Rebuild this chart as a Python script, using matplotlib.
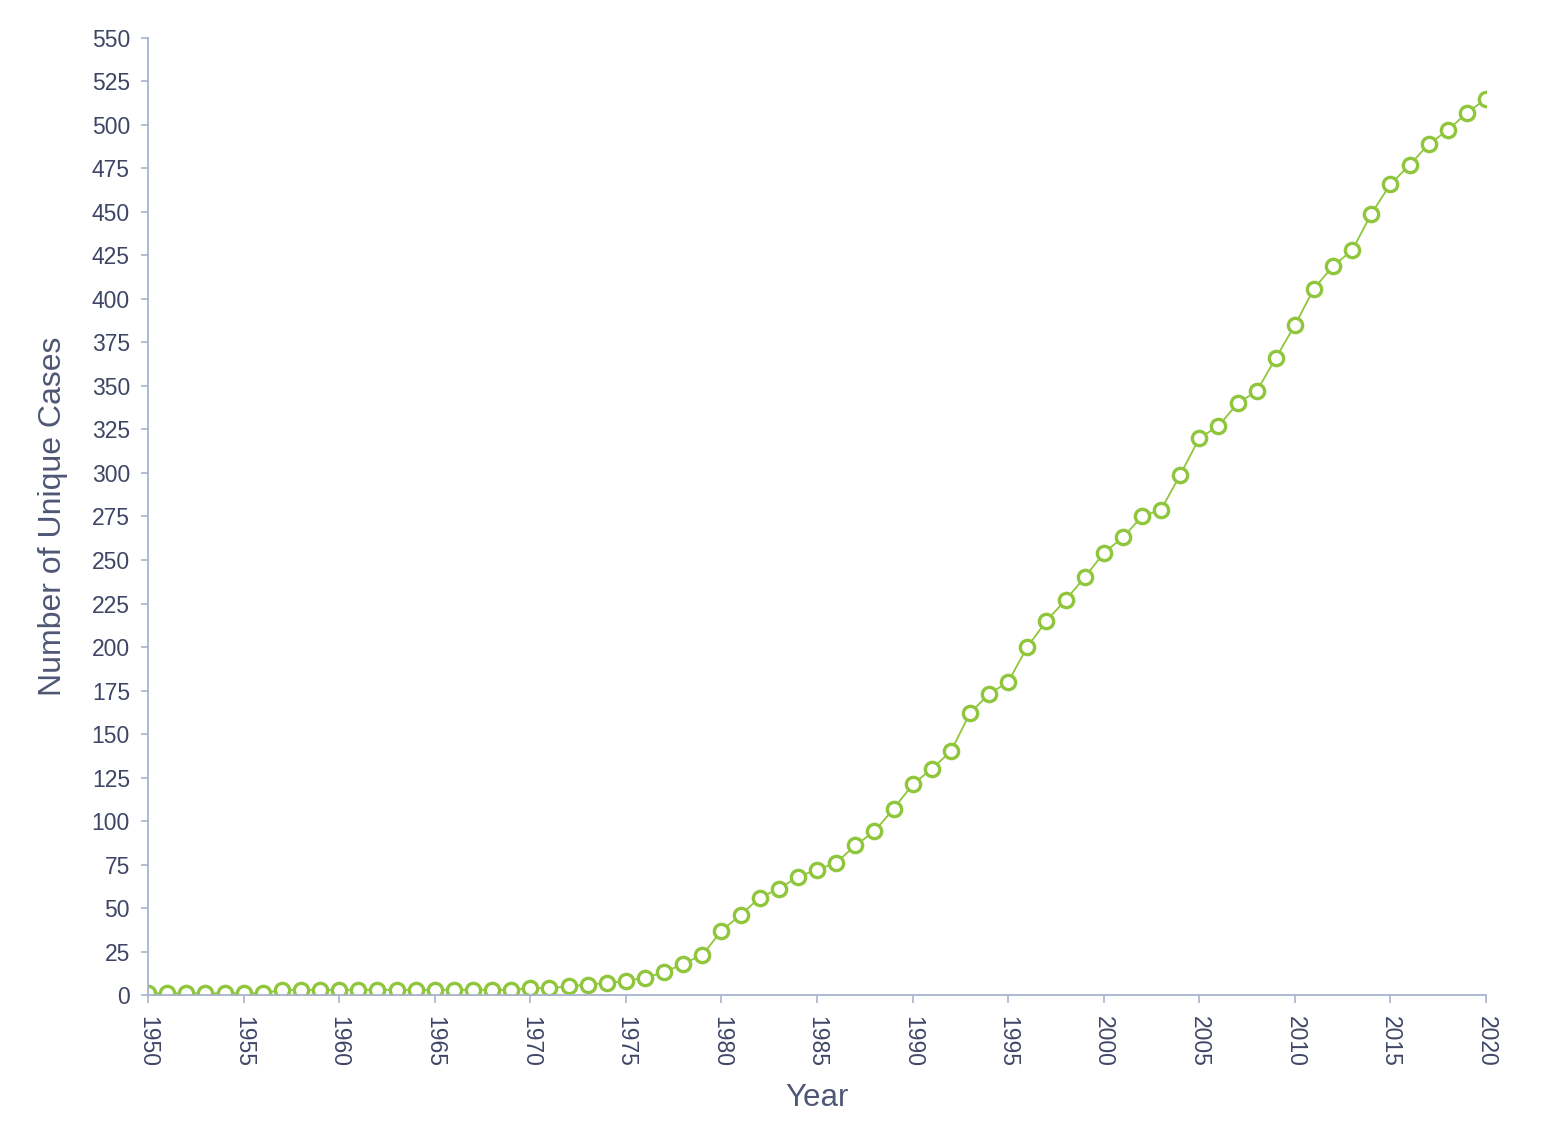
import matplotlib
matplotlib.use("Agg")
import matplotlib.pyplot as plt

plt.rcParams['font.family'] = ['Liberation Sans', 'DejaVu Sans']

years = list(range(1950, 2021))
cases = [1, 1, 1, 1, 1, 1, 1,
         3, 3, 3, 3, 3, 3, 3, 3, 3, 3, 3, 3, 3,
         4, 4, 5, 6, 7, 8, 10, 13, 18, 23,
         37, 46, 56, 61, 68, 72, 76, 86, 94, 107,
         121, 130, 140, 162, 173, 180, 200, 215, 227, 240,
         254, 263, 275, 279, 299, 320, 327, 340, 347, 366,
         385, 406, 419, 428, 449, 466, 477, 489, 497, 507,
         515]
x_ticks = list(range(1950, 2021, 5))
y_ticks = list(range(0, 551, 25))

line_color = '#8fc63c'
axis_color = '#a7b4cf'
label_color = '#3f4565'
title_color = '#4e5775'

fig = plt.figure(figsize=(15.6, 11.26), dpi=100)
ax = fig.add_axes([0.0949, 0.1163, 0.8577, 0.85])

ax.plot(years, cases, color=line_color, linewidth=1.3, marker='o',
        markersize=10.3, markerfacecolor='white', markeredgecolor=line_color,
        markeredgewidth=2.4)

ax.set_xlim(1950, 2020)
ax.set_ylim(0, 550)
ax.set_xticks(x_ticks)
ax.set_yticks(y_ticks)
ax.set_xticklabels([str(v) for v in x_ticks], rotation=-90, va='top', ha='center')

for s in ['top', 'right']:
    ax.spines[s].set_visible(False)
for s in ['left', 'bottom']:
    ax.spines[s].set_color(axis_color)
    ax.spines[s].set_linewidth(1.3)

ax.tick_params(axis='y', length=5, width=1.2, color=axis_color, labelcolor=label_color,
               labelsize=16.5, pad=8)
ax.tick_params(axis='x', length=6, width=1.2, color=axis_color, labelcolor=label_color,
               labelsize=16.5, pad=9)

ax.set_ylabel('Number of Unique Cases', fontsize=23, color=title_color)
ax.set_xlabel('Year', fontsize=22.5, color=title_color)
ax.yaxis.set_label_coords(-0.060, 0.5)
ax.xaxis.set_label_coords(0.5, -0.092)

fig.savefig('out.png', dpi=100)
